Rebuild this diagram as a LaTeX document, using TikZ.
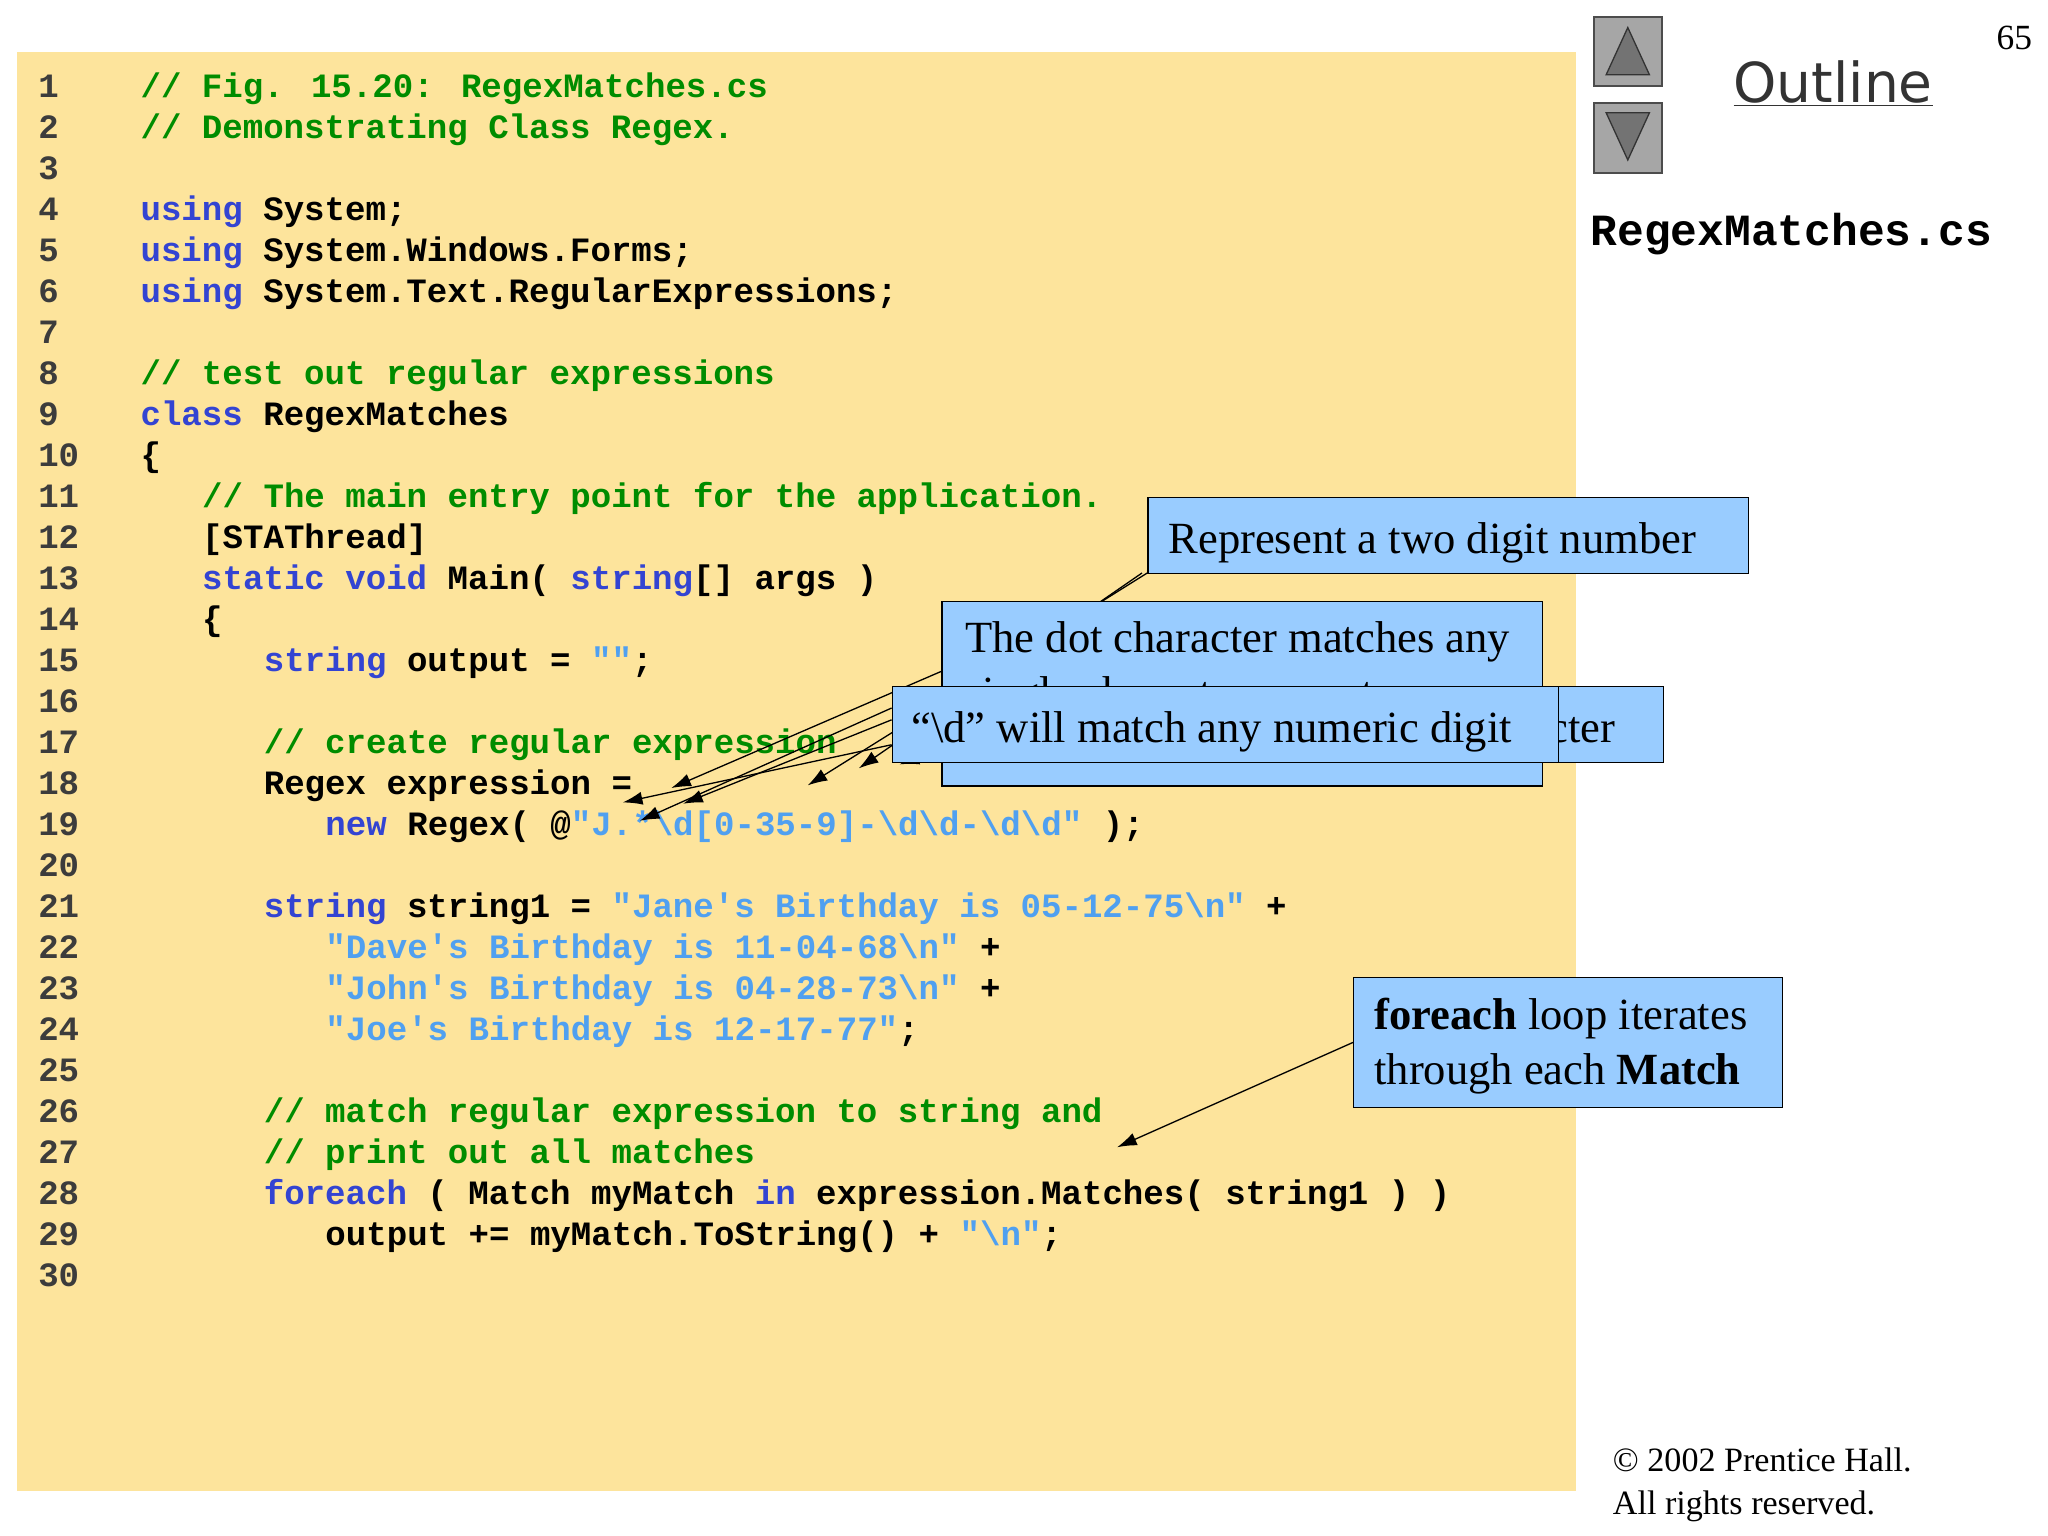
\documentclass[tikz,border=0pt]{standalone}
\usepackage{fontspec}
\setmainfont{Liberation Serif}
\newfontfamily\codefont{Liberation Mono}
\newfontfamily\outfont{DejaVu Sans}
\usetikzlibrary{arrows.meta}
\definecolor{paper}{RGB}{253,228,156}
\definecolor{kw}{RGB}{51,68,210}
\definecolor{str}{RGB}{80,160,240}
\definecolor{cm}{RGB}{0,140,0}
\definecolor{num}{RGB}{60,60,60}
\definecolor{callout}{RGB}{153,204,255}
\newcommand\K[1]{\textcolor{kw}{#1}}
\newcommand\Ss[1]{\textcolor{str}{#1}}
\newcommand\C[1]{\textcolor{cm}{#1}}
\newcommand\bs{\textbackslash}
\tikzset{
  code/.style={anchor=base west,inner sep=0pt,font=\codefont\bfseries\fontsize{26}{30}\selectfont},
  lnum/.style={anchor=base west,inner sep=0pt,text=num,font=\codefont\bfseries\fontsize{26}{30}\selectfont},
  box/.style={draw=black,line width=1pt,fill=callout,anchor=north west,inner sep=0pt},
  ctext/.style={anchor=base west,inner sep=0pt,font=\fontsize{34}{42}\selectfont},
  arr/.style={-{Latex[length=15pt,width=10pt]},line width=1pt},
  btn/.style={draw=black!70,line width=1.5pt,fill=black!35,minimum width=52pt,minimum height=53pt,anchor=north west}
}
\newcommand\cl[3]{\node[lnum] (n#1) at (29,{65+(#1-1)*31.28+9}) {#1};
  \node[code] (l#1) at ({107+#2*15.67},{65+(#1-1)*31.28+9}) {#3};}
\begin{document}
\begin{tikzpicture}[x=1pt,y=-1pt]
\useasboundingbox (0,0) rectangle (1562,1171);
\fill[white] (0,0) rectangle (1562,1171);
\fill[paper] (13,40) rectangle (1202,1137);
\cl{1}{0}{\C{// Fig. 15.20: RegexMatches.cs}}
\cl{2}{0}{\C{// Demonstrating Class Regex.}}
\node[lnum] (n3) at (29,{65+2*31.28+9}) {3};
\cl{4}{0}{\K{using} System;}
\cl{5}{0}{\K{using} System.Windows.Forms;}
\cl{6}{0}{\K{using} System.Text.RegularExpressions;}
\node[lnum] (n7) at (29,{65+6*31.28+9}) {7};
\cl{8}{0}{\C{// test out regular expressions}}
\cl{9}{0}{\K{class} RegexMatches}
\cl{10}{0}{\{}
\cl{11}{3}{\C{// The main entry point for the application.}}
\cl{12}{3}{[STAThread]}
\cl{13}{3}{\K{static void} Main( \K{string}[] args )}
\cl{14}{3}{\{}
\cl{15}{6}{\K{string} output = \Ss{""};}
\node[lnum] (n16) at (29,{65+15*31.28+9}) {16};
\cl{17}{6}{\C{// create regular expression}}
\cl{18}{6}{Regex expression =}
\cl{19}{9}{\K{new} Regex( @\Ss{"J.*\bs d[0-35-9]-\bs d\bs d-\bs d\bs d"} );}
\node[lnum] (n20) at (29,{65+19*31.28+9}) {20};
\cl{21}{6}{\K{string} string1 = \Ss{"Jane's Birthday is 05-12-75\bs n"} +}
\cl{22}{9}{\Ss{"Dave's Birthday is 11-04-68\bs n"} +}
\cl{23}{9}{\Ss{"John's Birthday is 04-28-73\bs n"} +}
\cl{24}{9}{\Ss{"Joe's Birthday is 12-17-77"};}
\node[lnum] (n25) at (29,{65+24*31.28+9}) {25};
\cl{26}{6}{\C{// match regular expression to string and}}
\cl{27}{6}{\C{// print out all matches}}
\cl{28}{6}{\K{foreach} ( Match myMatch \K{in} expression.Matches( string1 ) )}
\cl{29}{9}{output += myMatch.ToString() + \Ss{"\bs n"};}
\node[lnum] (n30) at (29,{65+29*31.28+9}) {30};

% arrow end points
\coordinate (t1) at (475,612);
\coordinate (t2) at (488,626);
\coordinate (t3) at (512,601);
\coordinate (t4) at (521,613);
\coordinate (t5) at (616,599);
\coordinate (t6) at (655,586);
\coordinate (t7) at (686,583);
\coordinate (a1) at (875,437);
\coordinate (a2) at (871,437);
\coordinate (b1) at (718,512);
\coordinate (c1) at (680,540);
\coordinate (c2) at (680,549);
\coordinate (c3) at (680,568);
\coordinate (d1) at (740,565);
\draw[arr] (a1) -- (t5);
\draw[arr] (a2) -- (t6);
\draw[arr] (b1) -- (t3);
\draw[arr] (c1) -- (t2);
\draw[arr] (c2) -- (t4);
\draw[arr] (c3) -- (t1);
\draw[arr] (d1) -- (t7);

\node[box,minimum width=458pt,minimum height=58pt] (A) at (875,379) {};
\node[ctext] (At) at (891,422) {Represent a two digit number};
\node[box,minimum width=458pt,minimum height=141pt] (B) at (718,458) {};
\node[ctext,align=left,anchor=north west] (Bt) at (736,474) {The dot character matches any\\single character except a\\newline character};
\node[box,minimum width=588pt,minimum height=58pt] (D) at (680,523) {};
\node[ctext,anchor=base east] (Dt) at (1232,566) {character};
\node[box,minimum width=508pt,minimum height=58pt] (Cb) at (680,523) {};
\node[ctext] (Ct) at (695,566) {“\bs d” will match any numeric digit};

\node[box,minimum width=327pt,minimum height=99pt] (E) at (1032,745) {};
\node[ctext,align=left,anchor=north west] (Et) at (1048,761) {\textbf{foreach} loop iterates\\through each \textbf{Match}};
\coordinate (e1) at (852,875);
\draw[arr] (E.west) -- (e1);

% right panel
\node[btn] (up) at (1215,12) {};
\fill[black!55] (1225,57) -- (1258,57) -- (1241.5,21) -- cycle;
\draw[black!80,line width=1pt] (1225,57) -- (1258,57) -- (1241.5,21) -- cycle;
\node[btn] (down) at (1215,78) {};
\fill[black!55] (1225,86) -- (1258,86) -- (1241.5,122) -- cycle;
\draw[black!80,line width=1pt] (1225,86) -- (1258,86) -- (1241.5,122) -- cycle;
\node[anchor=base west,inner sep=0pt,text=black!80,font=\outfont\fontsize{42}{48}\selectfont] (out) at (1322,78) {\underline{Outline}};
\node[anchor=base west,inner sep=0pt,font=\codefont\bfseries\fontsize{34}{40}\selectfont] (fn) at (1213,187) {RegexMatches.cs};
\node[anchor=base east,inner sep=0pt,font=\fontsize{27}{30}\selectfont] (pg) at (1550,38) {65};
\node[anchor=base west,inner sep=0pt,font=\fontsize{26}{33}\selectfont] (cp) at (1230,1122) {© 2002 Prentice Hall.};
\node[anchor=base west,inner sep=0pt,font=\fontsize{26}{33}\selectfont] (cp2) at (1230,1155) {All rights reserved.};
\end{tikzpicture}
\end{document}
